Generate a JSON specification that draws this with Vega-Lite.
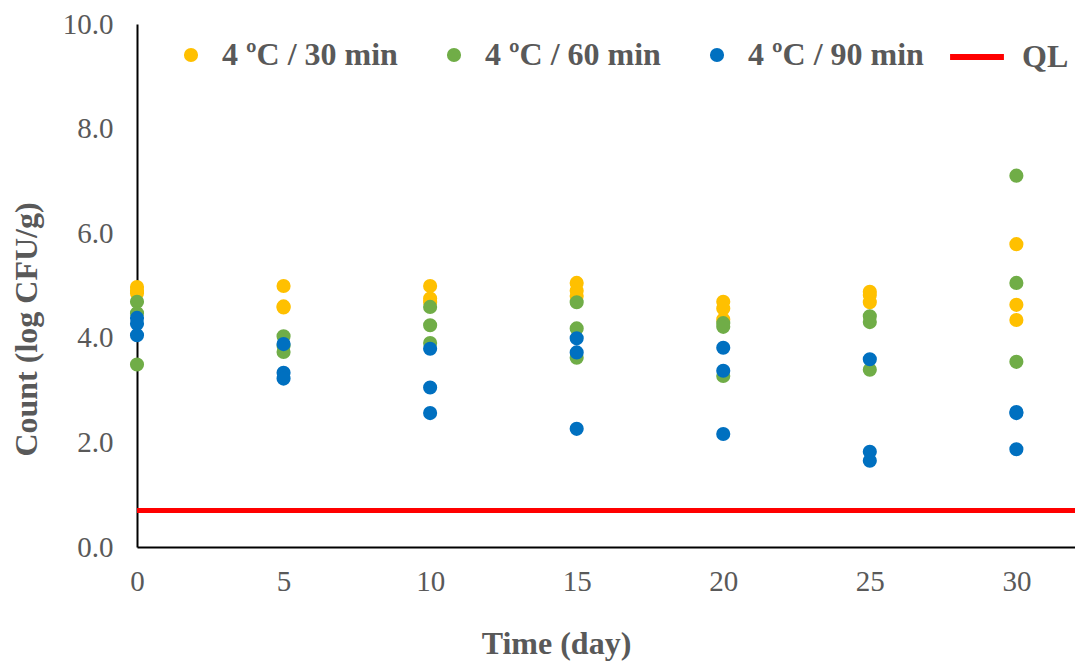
{
  "$schema": "https://vega.github.io/schema/vega-lite/v6.json",
  "autosize": "none",
  "width": 938,
  "height": 523,
  "padding": {"left": 137, "top": 24, "right": 0, "bottom": 114},
  "background": "white",
  "config": {
    "view": {"stroke": null},
    "font": "Liberation Serif",
    "axis": {"grid": false, "ticks": false, "domainColor": "#000000", "domainWidth": 2, "labelFont": "Liberation Serif", "labelColor": "#595959", "labelFontSize": 29, "labelFlush": false, "titleFont": "Liberation Serif", "titleColor": "#595959", "titleFontSize": 32, "titleFontWeight": "bold"},
    "legend": {"labelFont": "Liberation Serif", "labelFontSize": 32, "labelFontWeight": "bold", "labelColor": "#595959", "labelLimit": 400}
  },
  "datasets": {
    "pts": [
      {"day": 0, "count": 4.97, "series": "4 ºC / 30 min"},
      {"day": 0, "count": 4.90, "series": "4 ºC / 30 min"},
      {"day": 0, "count": 4.85, "series": "4 ºC / 30 min"},
      {"day": 5, "count": 4.99, "series": "4 ºC / 30 min"},
      {"day": 5, "count": 4.60, "series": "4 ºC / 30 min"},
      {"day": 5, "count": 4.58, "series": "4 ºC / 30 min"},
      {"day": 10, "count": 4.99, "series": "4 ºC / 30 min"},
      {"day": 10, "count": 4.75, "series": "4 ºC / 30 min"},
      {"day": 10, "count": 4.68, "series": "4 ºC / 30 min"},
      {"day": 15, "count": 5.05, "series": "4 ºC / 30 min"},
      {"day": 15, "count": 4.90, "series": "4 ºC / 30 min"},
      {"day": 15, "count": 4.80, "series": "4 ºC / 30 min"},
      {"day": 20, "count": 4.69, "series": "4 ºC / 30 min"},
      {"day": 20, "count": 4.56, "series": "4 ºC / 30 min"},
      {"day": 20, "count": 4.35, "series": "4 ºC / 30 min"},
      {"day": 25, "count": 4.88, "series": "4 ºC / 30 min"},
      {"day": 25, "count": 4.82, "series": "4 ºC / 30 min"},
      {"day": 25, "count": 4.68, "series": "4 ºC / 30 min"},
      {"day": 30, "count": 5.79, "series": "4 ºC / 30 min"},
      {"day": 30, "count": 4.63, "series": "4 ºC / 30 min"},
      {"day": 30, "count": 4.34, "series": "4 ºC / 30 min"},
      {"day": 0, "count": 4.69, "series": "4 ºC / 60 min"},
      {"day": 0, "count": 4.47, "series": "4 ºC / 60 min"},
      {"day": 0, "count": 3.49, "series": "4 ºC / 60 min"},
      {"day": 5, "count": 4.03, "series": "4 ºC / 60 min"},
      {"day": 5, "count": 3.85, "series": "4 ºC / 60 min"},
      {"day": 5, "count": 3.73, "series": "4 ºC / 60 min"},
      {"day": 10, "count": 4.59, "series": "4 ºC / 60 min"},
      {"day": 10, "count": 4.24, "series": "4 ºC / 60 min"},
      {"day": 10, "count": 3.90, "series": "4 ºC / 60 min"},
      {"day": 15, "count": 4.68, "series": "4 ºC / 60 min"},
      {"day": 15, "count": 4.18, "series": "4 ºC / 60 min"},
      {"day": 15, "count": 3.62, "series": "4 ºC / 60 min"},
      {"day": 20, "count": 4.28, "series": "4 ºC / 60 min"},
      {"day": 20, "count": 4.21, "series": "4 ºC / 60 min"},
      {"day": 20, "count": 3.27, "series": "4 ºC / 60 min"},
      {"day": 25, "count": 4.41, "series": "4 ºC / 60 min"},
      {"day": 25, "count": 4.30, "series": "4 ºC / 60 min"},
      {"day": 25, "count": 3.39, "series": "4 ºC / 60 min"},
      {"day": 30, "count": 7.10, "series": "4 ºC / 60 min"},
      {"day": 30, "count": 5.05, "series": "4 ºC / 60 min"},
      {"day": 30, "count": 3.54, "series": "4 ºC / 60 min"},
      {"day": 0, "count": 4.38, "series": "4 ºC / 90 min"},
      {"day": 0, "count": 4.27, "series": "4 ºC / 90 min"},
      {"day": 0, "count": 4.05, "series": "4 ºC / 90 min"},
      {"day": 5, "count": 3.88, "series": "4 ºC / 90 min"},
      {"day": 5, "count": 3.33, "series": "4 ºC / 90 min"},
      {"day": 5, "count": 3.22, "series": "4 ºC / 90 min"},
      {"day": 10, "count": 3.79, "series": "4 ºC / 90 min"},
      {"day": 10, "count": 3.05, "series": "4 ºC / 90 min"},
      {"day": 10, "count": 2.56, "series": "4 ºC / 90 min"},
      {"day": 15, "count": 3.99, "series": "4 ºC / 90 min"},
      {"day": 15, "count": 3.72, "series": "4 ºC / 90 min"},
      {"day": 15, "count": 2.26, "series": "4 ºC / 90 min"},
      {"day": 20, "count": 3.81, "series": "4 ºC / 90 min"},
      {"day": 20, "count": 3.37, "series": "4 ºC / 90 min"},
      {"day": 20, "count": 2.16, "series": "4 ºC / 90 min"},
      {"day": 25, "count": 3.59, "series": "4 ºC / 90 min"},
      {"day": 25, "count": 1.82, "series": "4 ºC / 90 min"},
      {"day": 25, "count": 1.65, "series": "4 ºC / 90 min"},
      {"day": 30, "count": 2.58, "series": "4 ºC / 90 min"},
      {"day": 30, "count": 2.56, "series": "4 ºC / 90 min"},
      {"day": 30, "count": 1.87, "series": "4 ºC / 90 min"}
    ],
    "ql": [{"series": "QL", "count": 0.7}]
  },
  "layer": [
    {
      "data": {"name": "ql"},
      "mark": {"type": "rule", "strokeWidth": 5},
      "encoding": {
        "y": {"field": "count", "type": "quantitative", "scale": {"domain": [0, 10]}},
        "stroke": {"field": "series", "type": "nominal", "scale": {"domain": ["QL"], "range": ["#FF0000"]},
          "legend": {"title": null, "orient": "none", "legendX": 810, "legendY": 3, "symbolType": "stroke", "symbolSize": 2900, "symbolStrokeWidth": 6, "labelOffset": 15, "padding": 0}}
      }
    },
    {
      "data": {"name": "pts"},
      "mark": {"type": "point", "filled": true, "opacity": 1, "size": 200, "shape": "circle"},
      "encoding": {
        "x": {"field": "day", "type": "quantitative", "scale": {"domain": [0, 32], "nice": false},
          "axis": {"values": [0, 5, 10, 15, 20, 25, 30], "title": "Time (day)", "labelPadding": 20, "titlePadding": 32, "titleX": 419}},
        "y": {"field": "count", "type": "quantitative", "scale": {"domain": [0, 10], "nice": false},
          "axis": {"values": [0, 2, 4, 6, 8, 10], "format": ".1f", "title": "Count (log CFU/g)", "labelPadding": 24, "titlePadding": 19, "titleY": 305}},
        "color": {"field": "series", "type": "nominal",
          "scale": {"domain": ["4 ºC / 30 min", "4 ºC / 60 min", "4 ºC / 90 min"], "range": ["#FFC000", "#70AD47", "#0070C0"]},
          "legend": {"title": null, "orient": "none", "direction": "horizontal", "legendX": 38, "legendY": 15, "symbolType": "circle", "symbolSize": 200, "symbolStrokeWidth": 0, "labelOffset": 15, "columnPadding": 40, "padding": 0}}
      }
    }
  ]
}
